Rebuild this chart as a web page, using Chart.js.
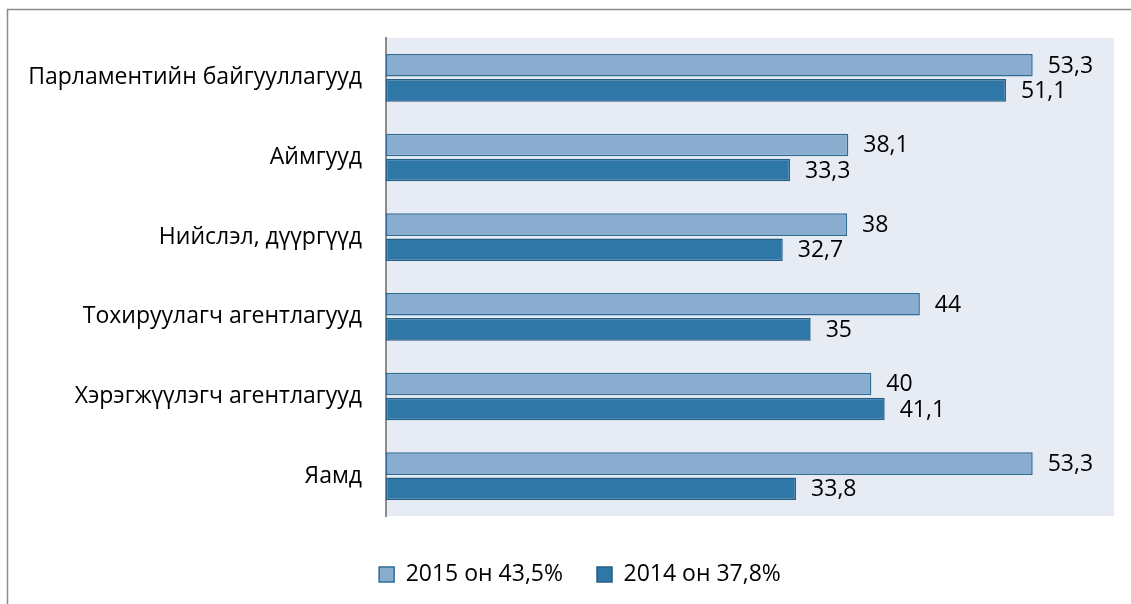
<!DOCTYPE html>
<html>
<head>
<meta charset="utf-8">
<script src="https://cdn.jsdelivr.net/npm/chart.js@4/dist/chart.umd.min.js"></script>
<style>
  html, body { margin: 0; padding: 0; background: #fff; }
  #wrap { width: 1131px; height: 604px; }
</style>
</head>
<body>
<div id="wrap"><canvas id="grafico" width="1131" height="604"></canvas></div>
<script>
const categories = [
    'Парламентийн байгууллагууд',
    'Аймгууд',
    'Нийслэл, дүүргүүд',
    'Тохируулагч агентлагууд',
    'Хэрэгжүүлэгч агентлагууд',
    'Яамд'
];
const values2015 = [53.3, 38.1, 38, 44, 40, 53.3];
const values2014 = [51.1, 33.3, 32.7, 35, 41.1, 33.8];
const seriesLabels = ['2015 он 43,5%', '2014 он 37,8%'];

const fontFamily = '"Open Sans", "Liberation Sans", sans-serif';

// gray frame + plot background
const framePlugin = {
    id: 'frame',
    afterLayout(chart) {
        // legend is centred a bit right of the canvas centre in the original
        if (chart.legend) {
            chart.legend.left = 46;
            chart.legend.width = chart.legend.right - 46;
        }
    },
    beforeDraw(chart) {
        const ctx = chart.ctx;
        const a = chart.chartArea;
        ctx.save();
        ctx.fillStyle = '#e7ebf3';
        ctx.fillRect(a.left, a.top, a.right - a.left, a.bottom - a.top);
        ctx.strokeStyle = '#8c8c8c';
        ctx.lineWidth = 1.5;
        ctx.beginPath();
        ctx.moveTo(7.5, 604);
        ctx.lineTo(7.5, 9.5);
        ctx.lineTo(1131, 9.5);
        ctx.stroke();
        ctx.restore();
    }
};

// value labels at the end of each bar
const valueLabels = {
    id: 'valueLabels',
    afterDatasetsDraw(chart) {
        const ctx = chart.ctx;
        ctx.save();
        ctx.font = '23px ' + fontFamily;
        ctx.fillStyle = '#000';
        ctx.textAlign = 'left';
        ctx.textBaseline = 'middle';
        chart.data.datasets.forEach((ds, i) => {
            chart.getDatasetMeta(i).data.forEach((bar, j) => {
                const txt = String(ds.data[j]).replace('.', ',');
                ctx.fillText(txt, bar.x + 15, bar.y + 1);
            });
        });
        ctx.restore();
    }
};

new Chart(document.getElementById('grafico'), {
    type: 'bar',
    data: {
        labels: categories,
        datasets: [{
            label: seriesLabels[0],
            data: values2015,
            backgroundColor: '#8aaccf',
            borderColor: '#2f6c94',
            borderWidth: 1.5,
            borderSkipped: false,
            categoryPercentage: 0.63,
            barPercentage: 0.9
        }, {
            label: seriesLabels[1],
            data: values2014,
            backgroundColor: '#2e77a7',
            borderColor: '#245f86',
            borderWidth: 1.5,
            borderSkipped: false,
            categoryPercentage: 0.63,
            barPercentage: 0.9
        }]
    },
    options: {
        indexAxis: 'y',
        responsive: false,
        animation: false,
        layout: { padding: { top: 38, right: 17, left: 0, bottom: 8 } },
        scales: {
            x: {
                min: 0,
                max: 60,
                grid: { display: false, drawTicks: false },
                border: { display: false },
                ticks: { display: false },
                afterFit(scale) { scale.height = 13; }
            },
            y: {
                grid: { display: false, drawTicks: false },
                border: { display: true, color: '#8c8c8c', width: 2 },
                ticks: {
                    color: '#000',
                    padding: 24,
                    font: { size: 23, family: fontFamily }
                },
                afterFit(scale) { scale.width = 386; }
            }
        },
        plugins: {
            legend: {
                position: 'bottom',
                labels: {
                    color: '#000',
                    boxWidth: 15,
                    boxHeight: 15,
                    padding: 34,
                    font: { size: 23, family: fontFamily }
                }
            },
            tooltip: { enabled: false }
        }
    },
    plugins: [framePlugin, valueLabels]
});
</script>
</body>
</html>
